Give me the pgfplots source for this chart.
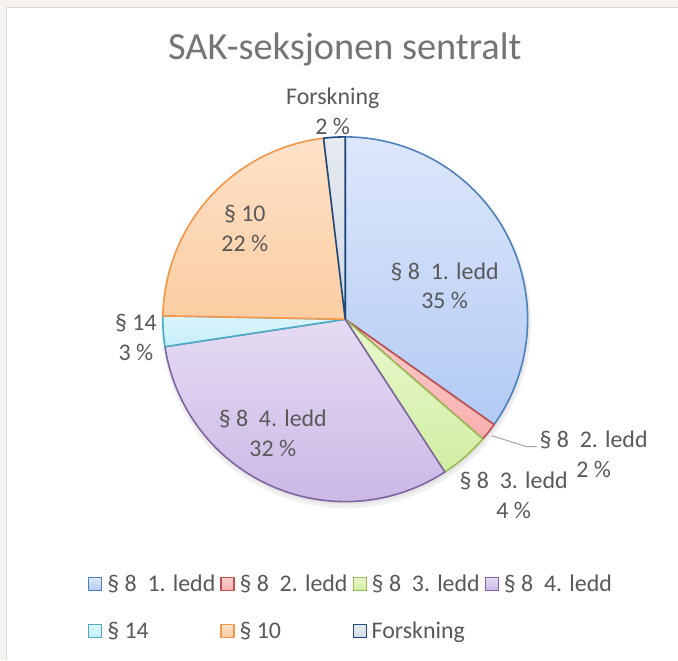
\documentclass[border=0pt]{standalone}
\usepackage{pgfplots}
\pgfplotsset{compat=1.18}
\usepackage{fontspec}
\setmainfont{Carlito}

\definecolor{txt}{HTML}{595959}
\definecolor{ttl}{HTML}{757575}
\definecolor{bgstrip}{HTML}{F5F1EE}
\definecolor{frame}{HTML}{D9D9D9}
\definecolor{leader}{HTML}{A6A6A6}
% slice edge / light / dark
\definecolor{eA}{HTML}{4F81BD}\definecolor{lA}{HTML}{DDE7FB}\definecolor{dA}{HTML}{B3CAF4}
\definecolor{eB}{HTML}{C0504D}\definecolor{lB}{HTML}{FCCFCE}\definecolor{dB}{HTML}{F7AFAD}
\definecolor{eC}{HTML}{9BBB59}\definecolor{lC}{HTML}{E8F8CF}\definecolor{dC}{HTML}{D2EEA3}
\definecolor{eD}{HTML}{8064A2}\definecolor{lD}{HTML}{E5DCF3}\definecolor{dD}{HTML}{CBB8E6}
\definecolor{eE}{HTML}{4BACC6}\definecolor{lE}{HTML}{DDF6FC}\definecolor{dE}{HTML}{C4EEF9}
\definecolor{eF}{HTML}{F79646}\definecolor{lF}{HTML}{FEE2C9}\definecolor{dF}{HTML}{FBCDA2}
\definecolor{eG}{HTML}{1F497D}\definecolor{lG}{HTML}{E6EAF1}\definecolor{dG}{HTML}{D3D9E4}

% shares in per cent, clockwise from 12 o'clock
\def\vA{34.8} % § 8 1. ledd
\def\vB{1.6}  % § 8 2. ledd
\def\vC{4.4}  % § 8 3. ledd
\def\vD{31.8} % § 8 4. ledd
\def\vE{2.7}  % § 14
\def\vF{22.8} % § 10
\def\vG{1.9}  % Forskning

\pgfmathsetmacro\aA{90}
\pgfmathsetmacro\aB{\aA-3.6*\vA}
\pgfmathsetmacro\aC{\aB-3.6*\vB}
\pgfmathsetmacro\aD{\aC-3.6*\vC}
\pgfmathsetmacro\aE{\aD-3.6*\vD}
\pgfmathsetmacro\aF{\aE-3.6*\vE}
\pgfmathsetmacro\aG{\aF-3.6*\vF}
\pgfmathsetmacro\aH{\aG-3.6*\vG}

\def\cx{345.5}
\def\cy{340.5}
\def\rr{182.5}

\newcommand\lbl{\fontsize{24}{30}\selectfont}

\pgfplotsset{
  slice/.style n args={3}{draw=#1, top color=#2, bottom color=#3,
    line width=1.6bp, samples=90, line join=round},
}

\begin{document}
\begin{tikzpicture}
\begin{axis}[
  width=678bp, height=660bp, scale only axis,
  xmin=0, xmax=678, ymin=0, ymax=660,
  hide axis, clip=false,
  legend columns=4,
  legend cell align=left,
  legend image code/.code={\draw[#1, line width=1.2bp] (0bp,-6.5bp) rectangle (13bp,6.5bp);},
  legend style={at={(88/678,52/660)}, anchor=west, draw=none, fill=none,
    font=\lbl, text=txt, row sep=25bp, inner sep=0pt,
    /tikz/every odd column/.append style={column sep=3bp},
    /tikz/every even column/.append style={column sep=3bp}},
]
  % background and frame
  \fill[bgstrip] (axis cs:0,0) rectangle (axis cs:678,660);
  \fill[white] (axis cs:7,0) rectangle (axis cs:678,652);
  \draw[frame, line width=1bp] (axis cs:7,0) -- (axis cs:7,652) -- (axis cs:678,652);

  % soft shadow under the pie
  \fill[black!6] (axis cs:\cx+1,\cy-4) circle[radius=185];
  \fill[black!10] (axis cs:\cx+1,\cy-2.5) circle[radius=183];

  \addplot[slice={eA}{lA}{dA}, domain=\aB:\aA]
    ({\cx+\rr*cos(x)},{\cy+\rr*sin(x)}) -- (axis cs:\cx,\cy) -- cycle;
  \addlegendentry{§ 8~~1. ledd}
  \addplot[slice={eB}{lB}{dB}, domain=\aC:\aB]
    ({\cx+\rr*cos(x)},{\cy+\rr*sin(x)}) -- (axis cs:\cx,\cy) -- cycle;
  \addlegendentry{§ 8~~2. ledd}
  \addplot[slice={eC}{lC}{dC}, domain=\aD:\aC]
    ({\cx+\rr*cos(x)},{\cy+\rr*sin(x)}) -- (axis cs:\cx,\cy) -- cycle;
  \addlegendentry{§ 8~~3. ledd}
  \addplot[slice={eD}{lD}{dD}, domain=\aE:\aD]
    ({\cx+\rr*cos(x)},{\cy+\rr*sin(x)}) -- (axis cs:\cx,\cy) -- cycle;
  \addlegendentry{§ 8~~4. ledd}
  \addplot[slice={eE}{lE}{dE}, domain=\aF:\aE]
    ({\cx+\rr*cos(x)},{\cy+\rr*sin(x)}) -- (axis cs:\cx,\cy) -- cycle;
  \addlegendentry{§ 14}
  \addplot[slice={eF}{lF}{dF}, domain=\aG:\aF]
    ({\cx+\rr*cos(x)},{\cy+\rr*sin(x)}) -- (axis cs:\cx,\cy) -- cycle;
  \addlegendentry{§ 10}
  \addplot[slice={eG}{lG}{dG}, domain=\aH:\aG]
    ({\cx+\rr*cos(x)},{\cy+\rr*sin(x)}) -- (axis cs:\cx,\cy) -- cycle;
  \addlegendentry{Forskning}

  % title
  \node[font=\fontsize{38.5}{46}\selectfont, text=ttl] at (axis cs:345,610) {SAK-seksjonen sentralt};

  % data labels
  \node[font=\lbl, text=txt, align=center] at (axis cs:333,549) {Forskning\\2 \%};
  \node[font=\lbl, text=txt, align=center] at (axis cs:445,374) {§ 8~~1. ledd\\35 \%};
  \draw[leader, line width=1bp] (axis cs:492,224) -- (axis cs:527,213) -- (axis cs:537,213);
  \node[font=\lbl, text=txt, align=center] at (axis cs:594,205) {§ 8~~2. ledd\\2 \%};
  \node[font=\lbl, text=txt, align=center] at (axis cs:514,164) {§ 8~~3. ledd\\4 \%};
  \node[font=\lbl, text=txt, align=center] at (axis cs:273,226) {§ 8~~4. ledd\\32 \%};
  \node[font=\lbl, text=txt, align=center] at (axis cs:136,322) {§ 14\\3 \%};
  \node[font=\lbl, text=txt, align=center] at (axis cs:245,431) {§ 10\\22 \%};
\end{axis}
\end{tikzpicture}
\end{document}
